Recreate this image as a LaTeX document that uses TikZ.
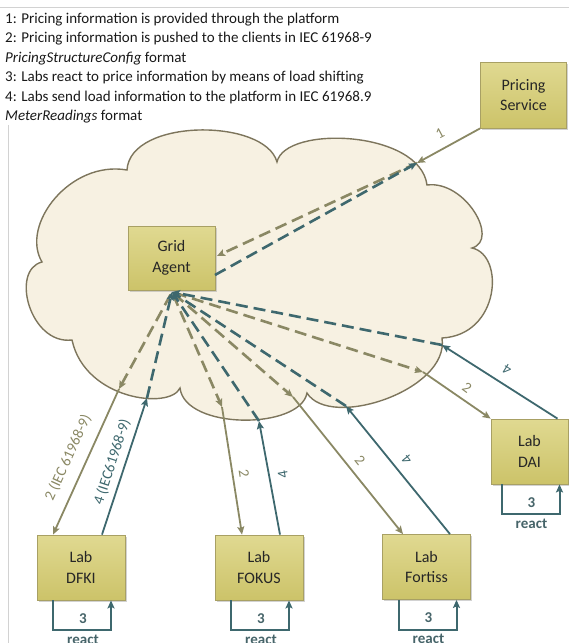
\documentclass[tikz,border=0pt]{standalone}
\usepackage{fontspec}
\setmainfont{Carlito}
\usetikzlibrary{arrows.meta,shadows}
\definecolor{olivearr}{RGB}{138,136,100}
\definecolor{tealarr}{RGB}{62,104,110}
\definecolor{cloudfill}{RGB}{247,241,226}
\definecolor{cloudline}{RGB}{125,117,92}
\definecolor{boxtop}{RGB}{224,217,145}
\definecolor{boxbot}{RGB}{204,195,105}
\definecolor{boxline}{RGB}{168,160,100}
\definecolor{frameline}{RGB}{210,210,210}
\definecolor{reacttxt}{RGB}{70,100,105}
\begin{document}
\begin{tikzpicture}[x=1pt,y=-1pt,
  box/.style={draw=boxline, line width=0.8pt, top color=boxtop, bottom color=boxbot,
    minimum width=88pt, minimum height=65pt, align=center, inner sep=1pt,
    font=\fontsize{16}{20.5}\selectfont, text=black!85,
    drop shadow={shadow xshift=1.5pt, shadow yshift=-1.5pt, fill=black!35, opacity=0.5}},
  txt/.style={anchor=base west, inner sep=0pt, font=\fontsize{15}{19.5}\selectfont, text=black!90},
  tip/.style={-{Stealth[length=8pt,width=7pt,inset=1.5pt]}},
  solo/.style={draw=olivearr, line width=1.8pt, tip},
  solt/.style={draw=tealarr, line width=1.8pt, tip},
  dsho/.style={draw=olivearr, line width=2.6pt, dash pattern=on 12pt off 6pt, tip},
  dsht/.style={draw=tealarr, line width=2.6pt, dash pattern=on 12pt off 6pt, tip},
  lblo/.style={font=\fontsize{15}{18}\selectfont, text=olivearr, inner sep=0pt},
  lblt/.style={font=\fontsize{15}{18}\selectfont, text=tealarr, inner sep=0pt},
  rloop/.style={draw=tealarr, line width=2pt, tip},
  rtxt/.style={font=\fontsize{15}{18}\selectfont\bfseries, text=reacttxt, inner sep=0pt},
]
\useasboundingbox (0,0) rectangle (569,643);
% frame lines
\draw[frameline, line width=0.8pt] (0,7) -- (569,7);
\draw[frameline, line width=0.8pt] (8,125) -- (8,643);

% legend text
\node[txt] (t1) at (5,23) {1: Pricing information is provided through the platform};
\node[txt] (t2) at (5,42.5) {2: Pricing information is pushed to the clients in IEC 61968-9};
\node[txt] (t3) at (5,62) {\textit{PricingStructureConfig} format};
\node[txt] (t4) at (5,81.5) {3: Labs react to price information by means of load shifting};
\node[txt] (t5) at (5,101) {4: Labs send load information to the platform in IEC 61968.9};
\node[txt] (t6) at (5,120.5) {\textit{MeterReadings} format};

% cloud
\draw[draw=cloudline, fill=cloudfill, line width=1.4pt]
  (127,170) .. controls (130,118) and (265,118) .. (277,162)
  .. controls (285,125) and (420,130) .. (427,185)
  .. controls (465,180) and (500,240) .. (472,248)
  .. controls (505,255) and (500,335) .. (442,338)
  .. controls (450,390) and (330,430) .. (307,393)
  .. controls (300,430) and (185,430) .. (180,388)
  .. controls (170,410) and (85,400) .. (72,340)
  .. controls (30,345) and (10,270) .. (42,262)
  .. controls (20,225) and (70,160) .. (127,170) -- cycle;

% boxes
\node[box, minimum width=86pt, minimum height=66pt] (ps) at (523.5,95) {Pricing\\Service};
\node[box, minimum width=87pt, minimum height=64pt] (ga) at (171.5,258) {Grid\\Agent};
\node[box] (dfki) at (81,567.5) {Lab\\DFKI};
\node[box] (fokus) at (259,567.5) {Lab\\FOKUS};
\node[box] (fortiss) at (426.5,567) {Lab\\Fortiss};
\node[box, minimum width=77pt] (dai) at (529.5,451.5) {Lab\\DAI};

% cloud-edge coordinates
\coordinate (c1) at (417,163);
\coordinate (gaR1) at (217,256);
\coordinate (gaR2) at (215,275);
\coordinate (gb) at (172,292);
\coordinate (cDfkiA) at (119,389);
\coordinate (cDfkiB) at (147,398);
\coordinate (cFokA) at (222,407);
\coordinate (cFokB) at (259,421);
\coordinate (cForA) at (293,397);
\coordinate (cForB) at (346,406);
\coordinate (cDaiA) at (423,372);
\coordinate (cDaiB) at (442,345);

% pricing arrows
\draw[solo] (ps.south west) -- (c1);
\draw[dsho] (c1) -- (gaR1);
\draw[dsht] (gaR2) -- (c1);
\node[lblo, rotate=28] (l1) at (440,133) {1};

% dashed inside cloud
\draw[dsho, shorten <=3pt] (gb) -- (cDfkiA);
\draw[dsho, shorten <=3pt] (gb) -- (cFokA);
\draw[dsho, shorten <=3pt] (gb) -- (cForA);
\draw[dsho, shorten <=3pt] (gb) -- (cDaiA);
\draw[dsht] (cDfkiB) -- (gb);
\draw[dsht] (cFokB) -- (gb);
\draw[dsht] (cForB) -- (gb);
\draw[dsht] (cDaiB) -- (gb);

% solid lab arrows
\draw[solo] (cDfkiA) -- ([xshift=-28pt]dfki.north);
\draw[solt] ([xshift=21pt]dfki.north) -- (cDfkiB);
\draw[solo] (cFokA) -- ([xshift=-17pt]fokus.north);
\draw[solt] ([xshift=21pt]fokus.north) -- (cFokB);
\draw[solo] (cForA) -- ([xshift=-23.5pt]fortiss.north);
\draw[solt] ([xshift=23.5pt]fortiss.north) -- (cForB);
\draw[solo] (cDaiA) -- (dai.north west);
\draw[solt] ([xshift=28pt]dai.north) -- (cDaiB);

% arrow labels
\node[lblo, rotate=65.5] (ldfki2) at (68,458) {2 (IEC 61968-9)};
\node[lblt, rotate=72] (ldfki4) at (112,462) {4 (IEC61968-9)};
\node[lblo, rotate=-81] (lfok2) at (244,473) {2};
\node[lblt, rotate=100] (lfok4) at (283,475) {4};
\node[lblo, rotate=-51] (lfor2) at (360,460) {2};
\node[lblt, rotate=129] (lfor4) at (407,460) {4};
\node[lblo, rotate=-36] (ldai2) at (467,388) {2};
\node[lblt, rotate=148] (ldai4) at (507,370) {4};

% react loops
\foreach \L/\n in {dfki/a, fokus/b, fortiss/c, dai/d} {
  \draw[rloop] ([xshift=-28pt]\L.south) -- ++(0,30) coordinate (lb\n) -| ([xshift=30pt]\L.south);
  \node[rtxt] (three\n) at ([xshift=30pt, yshift=12pt]lb\n) {3};
  \node[rtxt] (react\n) at ([xshift=30pt, yshift=-9pt]lb\n) {react};
}
\end{tikzpicture}
\end{document}
